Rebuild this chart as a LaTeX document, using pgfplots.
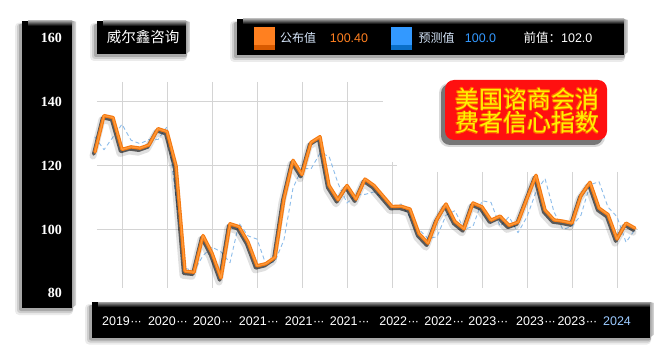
\documentclass[border=0pt]{standalone}
\usepackage{pgfplots}
\pgfplotsset{compat=1.18}
\usepackage{pgfplotstable}
\usepackage{fontspec}
\setmainfont{Liberation Sans}
\newfontfamily\cjk{Noto Sans CJK SC}
\newfontfamily\ytf{Liberation Serif}
\definecolor{pubor}{HTML}{FF8020}
\definecolor{publine}{HTML}{F57A12}
\definecolor{pubdark}{HTML}{D85A00}
\definecolor{pubhi}{HTML}{FF9A3A}
\definecolor{fcblue}{HTML}{3399FF}
\definecolor{fcdark}{HTML}{0A6FC8}
\definecolor{dashblue}{HTML}{8DBDEB}
\definecolor{gridc}{HTML}{D4D4D4}
\definecolor{titlered}{HTML}{FF1010}
\definecolor{titleyel}{HTML}{FFF200}
\definecolor{labtxt}{HTML}{D6E6FA}
\definecolor{yr}{HTML}{9CCBFF}
\newcommand\dd{\kern0.5pt·\kern-0.5pt·\kern-0.5pt·}

\pgfplotstableread{
pub fc
124.3 129.0
135.7 125.0
135.1 129.0
125.1 133.0
125.9 128.0
125.5 126.9
126.5 128.2
131.6 128.2
130.7 132.2
120.0 110.0
86.9 87.9
86.6 87.0
98.1 91.8
92.6 94.5
84.8 93.0
101.8 89.6
100.9 102.0
96.1 98.0
88.6 97.0
89.3 89.0
91.3 90.0
109.7 96.8
121.7 113.0
117.2 119.2
127.3 119.0
129.1 123.9
113.8 123.0
109.3 114.5
113.8 108.3
109.5 110.9
115.8 111.0
113.8 111.8
110.5 110.0
107.2 107.0
107.3 108.0
106.4 103.9
98.7 100.0
95.7 97.2
103.2 97.7
108.0 104.5
102.5 105.9
100.2 100.0
108.3 101.0
107.1 109.0
102.9 108.5
104.2 101.0
101.3 104.0
102.3 99.0
109.7 104.0
117.0 111.8
106.1 116.0
103.0 105.5
102.6 100.0
102.0 101.0
110.7 104.5
114.8 114.0
106.7 115.0
104.7 107.0
97.0 104.0
102.0 96.0
100.4 100.0
}\data

% bevelled black box: x1, ybottom, x2, ytop
\newcommand\bevbox[4]{%
  \fill[black,opacity=0.08,rounded corners=4pt] (#1-7,#2-7) rectangle (#3+1,#4-2);
  \fill[black,opacity=0.12,rounded corners=3pt] (#1-5,#2-5) rectangle (#3+1,#4-3);
  \fill[black,opacity=0.18,rounded corners=2pt] (#1-3,#2-3) rectangle (#3+1,#4-3);
  \fill[black] (#1,#2) rectangle (#3,#4);
  \shade[top color=gray!75, bottom color=black] (#1+6,#4-5) rectangle (#3,#4);
  \shade[left color=gray!70, right color=gray!25] (#3,#4) -- (#3+4,#4-1) -- (#3+4,#2+3) -- (#3,#2) -- cycle;
}

\begin{document}
\begin{tikzpicture}[x=1pt,y=1pt]
\useasboundingbox (0,0) rectangle (671,351);
\fill[white] (0,0) rectangle (671,351);

% boxes
\bevbox{22}{43}{72}{330.3}
\bevbox{97}{297}{186}{330}
\bevbox{237}{296}{624}{332}
\bevbox{92}{13.5}{650}{49}

% name box
\node[font=\cjk\fontsize{14.5}{15}\selectfont, text=white] at (143,314) {威尔鑫咨询};

% legend
\fill[pubor] (254,306) rectangle (275,324);
\fill[pubdark] (254,301) rectangle (275,306);
\fill[fcblue] (391,306) rectangle (412,324);
\fill[fcdark] (391,301) rectangle (412,306);
\node[font=\cjk\fontsize{12}{12}\selectfont, text=labtxt] at (298,313) {公布值};
\node[font=\fontsize{12.5}{12.5}\selectfont, text=pubor] at (349,313) {100.40};
\node[font=\cjk\fontsize{12}{12}\selectfont, text=labtxt] at (436.5,313) {预测值};
\node[font=\fontsize{12.5}{12.5}\selectfont, text=fcblue] at (480.5,313) {100.0};
\node[font=\fontsize{12.5}{12.5}\selectfont, text=white] at (558,313) {{\cjk 前值：}102.0};

\begin{axis}[
  at={(86pt,57.7pt)}, anchor=south west, scale only axis,
  width=558pt, height=255.2pt,
  xmin=-1, xmax=61, ymin=80, ymax=160,
  axis line style={draw=none},
  major tick length=0pt,
  clip=false,
  /pgf/number format/assume math mode=true,
  ytick={80,100,120,140,160},
  yticklabel style={font=\ytf\bfseries\fontsize{14}{14}\selectfont, text=white, anchor=east, inner sep=0pt, xshift=-24pt},
  xtick={3,8.1,13.1,18.2,23.3,28.3,33.8,38.8,43.7,49,53.6,58},
  xticklabels={2019\dd,2020\dd,2020\dd,2021\dd,2021\dd,2021\dd,2022\dd,2022\dd,2023\dd,2023\dd,2023\dd,\textcolor{yr}{2024}},
  xticklabel style={font=\fontsize{12.5}{12.5}\selectfont, text=white, anchor=center, inner sep=0pt, yshift=-27.7pt},
]
% grid
\foreach \i in {3,8,13,18,23,28} {\edef\tmp{\noexpand\draw[gridc, line width=0.9pt] (axis cs:\i,146.3) -- (axis cs:\i,81.7);}\tmp}
\draw[gridc, line width=0.9pt] (axis cs:33,121.2) -- (axis cs:33,81.7);
\foreach \i in {38,43,48,53,58} {\edef\tmp{\noexpand\draw[gridc, line width=0.9pt] (axis cs:\i,118.1) -- (axis cs:\i,81.7);}\tmp}
\draw[gridc, line width=0.9pt] (axis cs:0.2,140) -- (axis cs:32,140);
\draw[gridc, line width=0.9pt] (axis cs:0.2,120) -- (axis cs:33.6,120);
\draw[gridc, line width=0.9pt] (axis cs:0.2,100) -- (axis cs:60.3,100);

\addplot[dashblue, line width=0.9pt, dash pattern=on 4pt off 3pt, line join=round] table[x expr=\coordindex, y=fc] {\data};
\addplot[black, opacity=0.12, line width=7pt, xshift=-2pt, yshift=-4pt, line join=round, line cap=round] table[x expr=\coordindex, y=pub] {\data};
\addplot[black, opacity=0.6, line width=3.6pt, xshift=-1.3pt, yshift=-2pt, line join=round, line cap=round] table[x expr=\coordindex, y=pub] {\data};
\addplot[publine, line width=3.4pt, line join=round, line cap=round] table[x expr=\coordindex, y=pub] {\data};
\addplot[pubhi, line width=1.2pt, line join=round, line cap=round] table[x expr=\coordindex, y=pub] {\data};
\end{axis}

% title cloud
\fill[black,opacity=0.15,rounded corners=10pt] (439,204) rectangle (605,268);
\fill[black,opacity=0.45,rounded corners=9pt] (441,206) rectangle (603,267);
\fill[titlered,rounded corners=9pt] (445,211) rectangle (607,271);
\foreach \dx/\dy in {0.7/0,-0.7/0,0/0.7,0/-0.7,0.5/0.5,-0.5/-0.5,0.5/-0.5,-0.5/0.5} {
  \node[align=center, font=\cjk\fontsize{24}{23.5}\selectfont, text=orange!80!red] at (527+\dx,240+\dy) {美国谘商会消\\费者信心指数};
}
\node[align=center, font=\cjk\fontsize{24}{23.5}\selectfont, text=titleyel] at (527,240) {美国谘商会消\\费者信心指数};
\end{tikzpicture}
\end{document}
